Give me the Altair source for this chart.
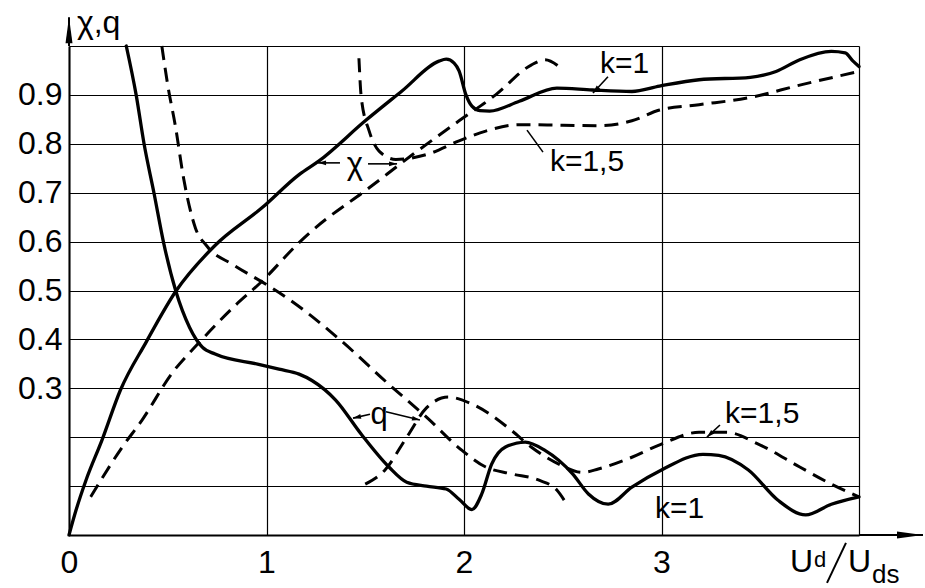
import altair as alt
import pandas as pd

# ---------------- data ----------------
chi_k1_x = [0, 0.035, 0.086, 0.167, 0.26, 0.39, 0.54, 0.734, 0.98, 1.165, 1.266, 1.50, 1.686, 1.873, 1.91,
            1.95, 1.975, 2.01, 2.04, 2.08, 2.13, 2.28, 2.47, 2.65, 2.85, 2.99, 3.19, 3.45, 3.58, 3.70, 3.86, 3.93, 3.97, 4.0]
chi_k1_y = [0, 0.05, 0.112, 0.194, 0.296, 0.394, 0.498, 0.59, 0.67, 0.737, 0.765, 0.847, 0.908, 0.969, 0.973,
            0.965, 0.949, 0.90, 0.877, 0.868, 0.867, 0.887, 0.914, 0.91, 0.907, 0.918, 0.931, 0.936, 0.948, 0.972, 0.989, 0.986, 0.969, 0.958]

chi_k15_low_x = [0.11, 0.27, 0.37, 0.52, 0.66, 0.83, 0.98, 1.165, 1.23, 1.52, 1.74, 1.975, 2.16, 2.34, 2.41, 2.49]
chi_k15_low_y = [0.078, 0.18, 0.235, 0.33, 0.394, 0.465, 0.52, 0.598, 0.622, 0.71, 0.778, 0.847, 0.90, 0.961, 0.972, 0.955]

chi_k15_up_x = [1.468, 1.48, 1.52, 1.57, 1.655, 1.81, 1.975, 2.11, 2.28, 2.5, 2.68, 2.85, 2.99, 3.19, 3.44, 3.70, 4.0]
chi_k15_up_y = [0.975, 0.894, 0.826, 0.785, 0.768, 0.778, 0.806, 0.826, 0.839, 0.838, 0.837, 0.847, 0.869, 0.88, 0.894, 0.92, 0.948]

q_k1_x = [0.29, 0.34, 0.38, 0.43, 0.48, 0.54, 0.61, 0.675, 0.74, 0.96, 1.063, 1.165, 1.23, 1.35, 1.48, 1.62, 1.71,
          1.81, 1.91, 1.975, 2.04, 2.09, 2.14, 2.21, 2.31, 2.41, 2.55, 2.63, 2.73, 2.85, 3.0, 3.21, 3.29, 3.44, 3.59,
          3.73, 3.86, 4.0]
q_k1_y = [1.0, 0.9, 0.8, 0.70, 0.596, 0.5, 0.425, 0.384, 0.37, 0.349, 0.339, 0.329, 0.316, 0.276, 0.206, 0.139, 0.108,
          0.10, 0.094, 0.073, 0.052, 0.084, 0.145, 0.18, 0.19, 0.173, 0.125, 0.084, 0.063, 0.098, 0.133, 0.165, 0.163,
          0.133, 0.071, 0.041, 0.063, 0.078]

q_k15_up_x = [0.47, 0.50, 0.54, 0.58, 0.64, 0.70, 0.83, 1.0, 1.10, 1.37, 1.62, 1.81, 1.99, 2.11, 2.24, 2.38, 2.47, 2.52]
q_k15_up_y = [1.0, 0.92, 0.833, 0.73, 0.628, 0.59, 0.553, 0.512, 0.486, 0.40, 0.308, 0.241, 0.173, 0.139, 0.125,
              0.112, 0.092, 0.063]

q_k15_low_x = [1.50, 1.60, 1.71, 1.81, 1.92, 2.04, 2.24, 2.34, 2.48, 2.60, 2.68, 2.85, 3.0, 3.19, 3.33, 3.49, 3.70, 3.86, 4.0]
q_k15_low_y = [0.104, 0.133, 0.20, 0.26, 0.282, 0.268, 0.214, 0.18, 0.145, 0.128, 0.135, 0.159, 0.186, 0.21, 0.21,
               0.186, 0.139, 0.104, 0.078]

x_ticks = [0, 1, 2, 3, 4]
y_ticks = [0, 0.1, 0.2, 0.3, 0.4, 0.5, 0.6, 0.7, 0.8, 0.9, 1.0]

FONT = "Liberation Sans"

# ---------------- tables ----------------
def series(name, xs, ys, dashed):
    return pd.DataFrame({"x": xs, "y": ys, "s": name, "i": range(len(xs)), "dashed": dashed})

solid = pd.concat([series("chi_k1", chi_k1_x, chi_k1_y, 0),
                   series("q_k1", q_k1_x, q_k1_y, 0)])
dashed = pd.concat([series("chi_k15_low", chi_k15_low_x, chi_k15_low_y, 1),
                    series("chi_k15_up", chi_k15_up_x, chi_k15_up_y, 1),
                    series("q_k15_up", q_k15_up_x, q_k15_up_y, 1),
                    series("q_k15_low", q_k15_low_x, q_k15_low_y, 1)])

xs = alt.Scale(domain=[0, 4], nice=False, zero=False)
ys = alt.Scale(domain=[0, 1], nice=False, zero=False)

X = alt.X("x:Q", scale=xs, axis=alt.Axis(values=x_ticks, title=None, grid=True, ticks=False,
                                          labelExpr="datum.value < 3.5 ? format(datum.value, 'd') : ''",
                                          labelPadding=12, labelFlush=False))
Y = alt.Y("y:Q", scale=ys, axis=alt.Axis(values=y_ticks, title=None, grid=True, ticks=False,
                                          labelExpr="(datum.value > 0.25 && datum.value < 0.95) ? format(datum.value, '.1f') : ''",
                                          labelPadding=7, labelFlush=False))

solid_layer = alt.Chart(solid).mark_line(color="black", strokeWidth=3.3, interpolate="monotone",
                                         strokeCap="round").encode(
    x=X, y=Y, detail="s:N", order="i:Q")
dashed_layer = alt.Chart(dashed).mark_line(color="black", strokeWidth=3.0, interpolate="monotone",
                                           strokeDash=[14, 8]).encode(
    x="x:Q", y="y:Q", detail="s:N", order="i:Q")

# ---------------- annotations ----------------
leaders = pd.DataFrame({
    "x":  [2.729, 2.40, 1.372, 1.514, 1.524, 1.605, 3.296, 0.0, 4.0],
    "y":  [0.937, 0.783, 0.761, 0.759, 0.247, 0.252, 0.225, 1.0, 0.0],
    "x2": [2.653, 2.319, 1.261, 1.661, 1.438, 1.777, 3.230, 0.0, 4.324],
    "y2": [0.904, 0.828, 0.761, 0.759, 0.239, 0.235, 0.200, 1.059, 0.0],
    "w":  [1.6, 1.6, 1.6, 1.6, 1.6, 1.6, 1.6, 2.0, 2.0],
})
leader_layer = alt.Chart(leaders).mark_rule(color="black").encode(
    x="x:Q", y="y:Q", x2="x2:Q", y2="y2:Q", strokeWidth=alt.StrokeWidth("w:Q", scale=None))

heads = pd.DataFrame({
    "x":   [2.653, 1.261, 1.661, 1.438, 1.777, 3.230],
    "y":   [0.904, 0.761, 0.759, 0.239, 0.235, 0.200],
    "ang": [223, 270, 90, 257, 103, 227],
})
head_layer = alt.Chart(heads).mark_point(shape="M0,0L0.6,2L-0.6,2Z", filled=True, size=64,
                                         color="black", opacity=1, strokeWidth=0).encode(
    x="x:Q", y="y:Q", angle=alt.Angle("ang:Q", scale=None))

axis_heads = pd.DataFrame({"x": [0.0, 4.324], "y": [1.059, 0.0], "ang": [0, 90]})
axis_head_layer = alt.Chart(axis_heads).mark_point(shape="M0,0L0.35,2.6L-0.35,2.6Z", filled=True, size=400,
                                                   color="black", opacity=1, strokeWidth=0).encode(
    x="x:Q", y="y:Q", angle=alt.Angle("ang:Q", scale=None))

labels_left = pd.DataFrame({
    "x": [2.689, 2.435, 3.322, 2.967],
    "y": [0.963, 0.763, 0.247, 0.053],
    "t": ["k=1", "k=1,5", "k=1,5", "k=1"],
})
lab_left = alt.Chart(labels_left).mark_text(font=FONT, fontSize=30, align="left", baseline="middle",
                                            color="black").encode(x="x:Q", y="y:Q", text="t:N")

labels_center = pd.DataFrame({"x": [1.448, 1.570], "y": [0.757, 0.245], "t": ["χ", "q"]})
lab_center = alt.Chart(labels_center).mark_text(font=FONT, fontSize=31, align="center", baseline="middle",
                                                color="black").encode(x="x:Q", y="y:Q", text="t:N")

axis_text = pd.DataFrame({
    "x":  [0.04, 3.651, 3.772, 3.944, 4.066],
    "y":  [1.0266, -0.0757, -0.0654, -0.0757, -0.098],
    "t":  ["χ,q", "U", "d", "U", "ds"],
    "fs": [32, 32, 22, 32, 26],
})
axis_text_layer = alt.Chart(axis_text).mark_text(font=FONT, align="left", baseline="alphabetic",
                                                 color="black").encode(
    x="x:Q", y="y:Q", text="t:N", size=alt.Size("fs:Q", scale=None))

slash = pd.DataFrame({"x": [3.838], "y": [-0.098], "x2": [3.934], "y2": [-0.016]})
slash_layer = alt.Chart(slash).mark_rule(color="black", strokeWidth=2).encode(
    x="x:Q", y="y:Q", x2="x2:Q", y2="y2:Q")

chart = alt.layer(
    solid_layer, dashed_layer, leader_layer, head_layer, axis_head_layer,
    lab_left, lab_center, axis_text_layer, slash_layer
).properties(
    width=790, height=489,
    padding={"left": 69, "top": 46, "right": 66, "bottom": 53},
    autosize=alt.AutoSizeParams(type="none"),
    background="white",
).configure_view(stroke=None).configure_axis(
    labelFont=FONT, labelFontSize=32, labelColor="black",
    domainColor="black", domainWidth=2,
    gridColor="black", gridWidth=1.2, gridOpacity=1,
)

chart.save("out.html", embed_options={"renderer": "svg", "actions": False})
